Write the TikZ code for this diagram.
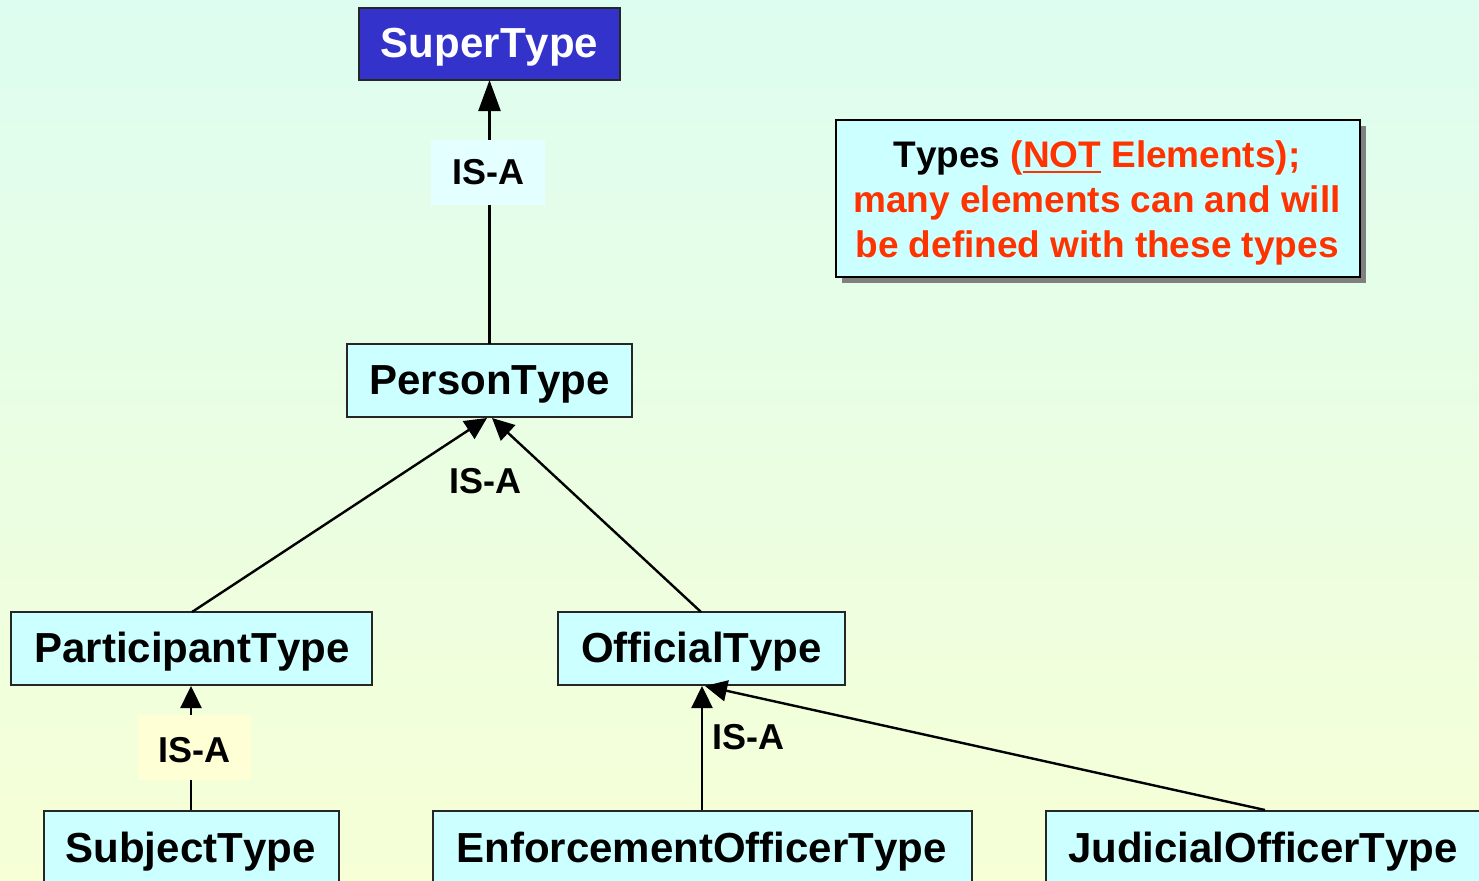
\documentclass[tikz,border=0pt]{standalone}
\usepackage{fontspec}
\setmainfont{Liberation Sans}[Kerning=Off]
\newcommand\myul[1]{\setbox0\hbox{#1}\rlap{\vrule width\wd0 height -3bp depth 5.8bp}\box0\relax}
\usetikzlibrary{arrows.meta}
\definecolor{bgtop}{HTML}{DDFDF0}
\definecolor{bgbot}{HTML}{F6FFD6}
\definecolor{boxfill}{HTML}{CCFFFF}
\definecolor{superfill}{HTML}{3333CC}
\definecolor{notered}{HTML}{FF3300}
\definecolor{labcyan}{HTML}{E4FFFF}
\definecolor{labyellow}{HTML}{FFFFD6}
\definecolor{shadowgray}{HTML}{808080}
\tikzset{
  typebox/.style={draw=black!85, line width=1.8bp, fill=boxfill, inner sep=0pt},
  typetext/.style={inner sep=0pt, font=\fontsize{42bp}{42bp}\selectfont\bfseries, text=black},
  isalabel/.style={inner sep=0pt, font=\fontsize{36bp}{36bp}\selectfont\bfseries, text=black},
  isa/.style={line width=2.4bp, -{Triangle[length=22bp,width=21bp]}},
}
\begin{document}
\begin{tikzpicture}[x=1bp,y=-1bp]
\useasboundingbox (0,0) rectangle (1479,880);
\shade[top color=bgtop, bottom color=bgbot] (0,0) rectangle (1479,880);

% boxes
\node[typebox, fill=superfill, minimum width=261bp, minimum height=72bp] (super) at (489.5,44) {};
\node[typebox, minimum width=285bp, minimum height=73bp] (person) at (489.5,380.5) {};
\node[typebox, minimum width=361bp, minimum height=73bp] (participant) at (191.5,648.5) {};
\node[typebox, minimum width=287bp, minimum height=73bp] (official) at (701.5,648.5) {};
\node[typebox, minimum width=295bp, minimum height=110bp, anchor=north west] (subject) at (43,810) {};
\node[typebox, minimum width=539bp, minimum height=110bp, anchor=north west] (enforce) at (432,810) {};
\node[typebox, minimum width=460bp, minimum height=110bp, anchor=north west] (judicial) at (1045,810) {};

\node[typetext, text=white] (supert) at (489.5,47) {SuperType};
\node[typetext] (persont) at (489.5,384) {PersonType};
\node[typetext] (participantt) at (192,652) {ParticipantType};
\node[typetext] (officialt) at (701.5,652) {OfficialType};
\node[typetext] (subjectt) at (190.5,852) {SubjectType};
\node[typetext] (enforcet) at (701.5,852) {EnforcementOfficerType};
\node[typetext] (judicialt) at (1263,852) {JudicialOfficerType};

% note with shadow
\fill[shadowgray] (842,126) rectangle (1366,283);
\node[draw=black, line width=1.8bp, fill=boxfill, minimum width=524bp, minimum height=157bp, inner sep=0pt] (note) at (1098,198.5) {};
\node[align=center, font=\fontsize{37bp}{45bp}\selectfont\bfseries, text=notered] (notetext) at (1097,203) {\textcolor{black}{Types} (\myul{NOT} Elements);\\many elements can and will\\be defined with these types};

% connectors
\coordinate (pt) at (489.5,344);
\coordinate (st) at (489.5,80);
\draw[line width=2.4bp, -{Triangle[length=31bp,width=22bp]}] (pt) -- (st);
\node[isalabel, fill=labcyan, minimum width=114bp, minimum height=65bp] (l1) at (488,172.5) {IS-A};

\coordinate (partop) at (192,612);
\coordinate (offtop) at (701,612);
\coordinate (ptl) at (487,418);
\coordinate (ptr) at (492,418);
\draw[isa] (partop) -- (ptl);
\draw[isa] (offtop) -- (ptr);
\node[isalabel] (l2) at (485,481) {IS-A};

\coordinate (subtop) at (191,810);
\coordinate (parbot) at (191,686);
\draw[isa] (subtop) -- (parbot);
\node[fill=labyellow, inner sep=0pt, minimum width=113bp, minimum height=65bp] (l3) at (194.5,747.5) {};
\node[isalabel] (l3t) at (194.5,750) {IS-A};

\coordinate (enftop) at (702,810);
\coordinate (offbot) at (702,686);
\coordinate (judtop) at (1265,810);
\coordinate (offbot2) at (705,686);
\draw[isa] (enftop) -- (offbot);
\draw[isa] (judtop) -- (offbot2);
\node[isalabel] (l4) at (748,737) {IS-A};
\end{tikzpicture}
\end{document}
